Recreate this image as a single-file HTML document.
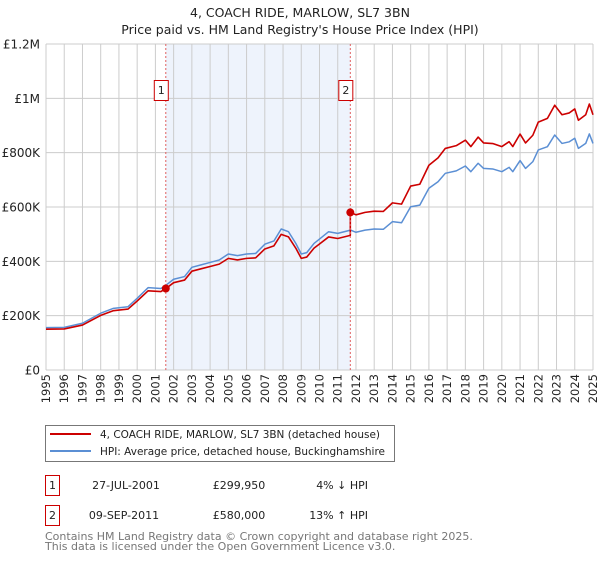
<!DOCTYPE html>
<html><head><meta charset="utf-8">
<style>
body{margin:0;background:#fff;font-family:"Liberation Sans","DejaVu Sans",sans-serif;}
svg text{font-family:"DejaVu Sans","Liberation Sans",sans-serif;}
</style></head>
<body>
<svg id="chart" width="600" height="560" xmlns="http://www.w3.org/2000/svg">
<text x="300" y="17" font-size="12.5" text-anchor="middle" fill="#222">4, COACH RIDE, MARLOW, SL7 3BN</text>
<text x="300" y="34" font-size="12.5" text-anchor="middle" fill="#222">Price paid vs. HM Land Registry's House Price Index (HPI)</text>
<g id="plot"></g>
<g>
<rect x="45.5" y="425.5" width="349" height="36" fill="#fff" stroke="#777"/>
<line x1="50" y1="434" x2="91" y2="434" stroke="#cc0000" stroke-width="2"/>
<text x="100" y="438" font-size="10.5" fill="#222" textLength="280" lengthAdjust="spacingAndGlyphs">4, COACH RIDE, MARLOW, SL7 3BN (detached house)</text>
<line x1="50" y1="451" x2="91" y2="451" stroke="#5b8fd4" stroke-width="2"/>
<text x="100" y="455" font-size="10.5" fill="#222" textLength="285" lengthAdjust="spacingAndGlyphs">HPI: Average price, detached house, Buckinghamshire</text>
</g>
<g>
<rect x="45.5" y="475.5" width="14" height="20" fill="#fff" stroke="#cc0000"/>
<text x="52.5" y="489" font-size="11" text-anchor="middle" fill="#222">1</text>
<text x="126" y="489" font-size="11" text-anchor="middle" fill="#222">27-JUL-2001</text>
<text x="239" y="489" font-size="11" text-anchor="middle" fill="#222">£299,950</text>
<text x="368" y="489" font-size="11" text-anchor="end" fill="#222">4% ↓ HPI</text>
</g>
<g>
<rect x="45.5" y="505.5" width="14" height="20" fill="#fff" stroke="#cc0000"/>
<text x="52.5" y="519" font-size="11" text-anchor="middle" fill="#222">2</text>
<text x="124" y="519" font-size="11" text-anchor="middle" fill="#222">09-SEP-2011</text>
<text x="239" y="519" font-size="11" text-anchor="middle" fill="#222">£580,000</text>
<text x="368" y="519" font-size="11" text-anchor="end" fill="#222">13% ↑ HPI</text>
</g>
<text x="45" y="540" font-size="11" fill="#777">Contains HM Land Registry data © Crown copyright and database right 2025.</text>
<text x="45" y="550" font-size="11" fill="#777">This data is licensed under the Open Government Licence v3.0.</text>
</svg>
<script>
const hpiYears=[1995,1996,1997,1998,1998.7,1999.5,2000,2000.6,2001.3,2001.6,2002,2002.6,2003,2003.5,2004,2004.5,2005,2005.5,2006,2006.5,2007,2007.5,2007.9,2008.3,2008.7,2009.0,2009.3,2009.7,2010,2010.5,2011,2011.7,2012,2012.5,2013,2013.5,2014,2014.5,2015,2015.5,2016,2016.5,2016.9,2017.5,2018,2018.3,2018.7,2019,2019.5,2020,2020.4,2020.6,2021,2021.3,2021.7,2022,2022.5,2022.9,2023.3,2023.7,2024,2024.2,2024.6,2024.8,2025];
const hpiValues=[156,157,172,209,227,233,264,303,300,313,334,344,378,387,396,405,427,421,427,429,463,475,519,509,466,427,432,466,482,509,503,515,507,515,519,518,546,542,601,607,669,693,724,733,751,730,761,742,740,730,746,730,771,742,767,810,822,865,834,840,853,816,834,869,834];
const saleYears=[2001.57,2011.69];
const salePrices=[299.95,580];
const saleLabels=["1","2"];
const yTicks=[0,200,400,600,800,1000,1200];
const yTickLabels=["£0","£200K","£400K","£600K","£800K","£1M","£1.2M"];
const xTicks=[1995,1996,1997,1998,1999,2000,2001,2002,2003,2004,2005,2006,2007,2008,2009,2010,2011,2012,2013,2014,2015,2016,2017,2018,2019,2020,2021,2022,2023,2024,2025];

const X0=46,X1=593,Y0=370,Y1=44;
const xs=y=>X0+(y-1995)/(2025-1995)*(X1-X0);
const ys=v=>Y0-v/1200*(Y0-Y1);
const NS="http://www.w3.org/2000/svg";
const plot=document.getElementById('plot');
function mk(t,a){const e=document.createElementNS(NS,t);for(const k in a)e.setAttribute(k,a[k]);plot.appendChild(e);return e;}
function hpiAt(y){for(let i=0;i<hpiYears.length-1;i++){if(y>=hpiYears[i]&&y<=hpiYears[i+1]){const f=(y-hpiYears[i])/(hpiYears[i+1]-hpiYears[i]);return hpiValues[i]+f*(hpiValues[i+1]-hpiValues[i]);}}return hpiValues[hpiValues.length-1];}

let shade=mk('rect',{x:xs(saleYears[0]),y:Y1,width:xs(saleYears[1])-xs(saleYears[0]),height:Y0-Y1,fill:'#eef3fc'});


xTicks.forEach(t=>{
  let g=mk('line',{x1:xs(t),x2:xs(t),y1:Y1,y2:Y0,stroke:'#cccccc','stroke-width':1});
  
  
  let tx=mk('text',{x:0,y:0,'font-size':11.5,fill:'#222','text-anchor':'end',transform:`translate(${xs(t)+4},374) rotate(-90)`});
  tx.textContent=t;
  
  
});
yTicks.forEach((t,i)=>{
  let g=mk('line',{x1:X0,x2:X1,y1:ys(t),y2:ys(t),stroke:'#cccccc','stroke-width':1});
  
  
  let tx=mk('text',{x:40,y:ys(t)+4.5,'font-size':12,fill:'#222','text-anchor':'end'});
  tx.textContent=yTickLabels[i];
  
  
});
let hp=mk('polyline',{points:hpiYears.map((y,i)=>xs(y)+','+ys(hpiValues[i])).join(' '),fill:'none',stroke:'#5b8fd4','stroke-width':1.5,'stroke-linejoin':'round'});


const r1=salePrices[0]/hpiAt(saleYears[0]), r2=salePrices[1]/hpiAt(saleYears[1]);
let pts=[];
hpiYears.forEach((y,i)=>{ if(y<saleYears[1]){pts.push([y,hpiValues[i]*r1]);} });
pts.push([saleYears[1],hpiAt(saleYears[1])*r1]);
pts.push([saleYears[1],salePrices[1]]);
hpiYears.forEach((y,i)=>{if(y>saleYears[1])pts.push([y,hpiValues[i]*r2]);});
let pp=mk('polyline',{points:pts.map(p=>xs(p[0])+','+ys(p[1])).join(' '),fill:'none',stroke:'#cc0000','stroke-width':1.6,'stroke-linejoin':'round'});


saleYears.forEach((y,i)=>{
  let l=mk('line',{x1:xs(y),x2:xs(y),y1:Y1,y2:Y0,stroke:'#e06060','stroke-width':1,'stroke-dasharray':'2,2'});
  
  
  let b=mk('rect',{x:xs(y)-11.5,y:80.5,width:14,height:20,fill:'#fff',stroke:'#cc0000'});
  
  
  let t=mk('text',{x:xs(y)-4.5,y:94,'font-size':11,'text-anchor':'middle',fill:'#222'});
  t.textContent=saleLabels[i];
  
  
  let c=mk('circle',{cx:xs(y),cy:ys(salePrices[i]),r:4,fill:'#cc0000'});
  
  
});
</script>
</body></html>
